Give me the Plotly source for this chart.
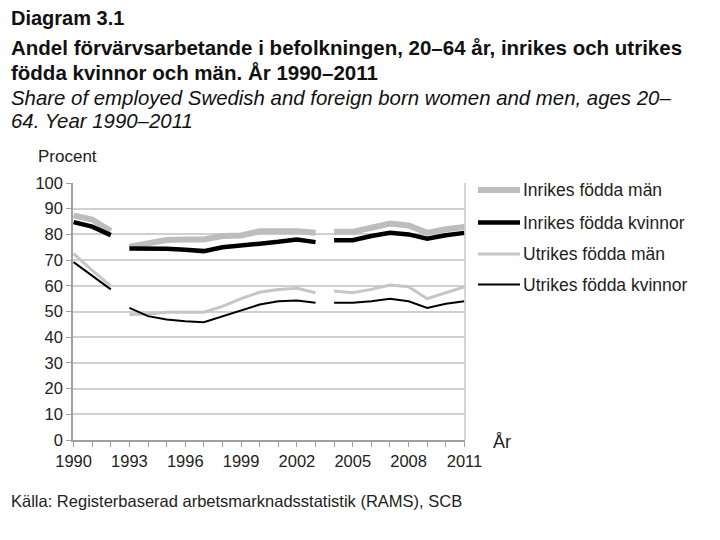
import plotly.graph_objects as go

years = list(range(1990, 2012))
inrikes_man = [87.4, 85.8, 81.3, 75.2, 76.5, 77.8, 78.0, 78.0, 79.4, 79.6, 81.2, 81.2, 81.2, 80.6,
               81.0, 81.0, 82.6, 84.2, 83.5, 80.6, 82.0, 82.9]
inrikes_kvinnor = [84.8, 83.0, 79.7, 74.5, 74.5, 74.4, 74.0, 73.5, 75.0, 75.5, 76.4, 77.1, 78.0, 77.0,
                   77.7, 77.7, 79.4, 80.6, 80.0, 78.3, 79.7, 80.6]
utrikes_man = [72.5, 66.0, 60.0, 48.8, 49.0, 49.7, 49.7, 49.7, 52.0, 55.0, 57.5, 58.6, 59.0, 57.3,
               58.0, 57.3, 58.6, 60.3, 59.6, 55.0, 57.3, 59.6]
utrikes_kvinnor = [69.2, 64.0, 58.6, 51.4, 48.2, 46.9, 46.2, 45.8, 48.2, 50.4, 52.7, 54.0, 54.3, 53.4,
                   53.4, 53.4, 54.0, 55.0, 54.0, 51.4, 53.0, 54.0]
break_after = [1992, 2003]  # series are interrupted after these years
series_names = ["Inrikes födda män", "Inrikes födda kvinnor", "Utrikes födda män", "Utrikes födda kvinnor"]
tick_years = [1990, 1993, 1996, 1999, 2002, 2005, 2008, 2011]

styles = [("#bdbdbd", 6), ("#000000", 4.5), ("#c6c6c6", 3), ("#000000", 2)]


def with_breaks(xs, ys):
    ox, oy = [], []
    for x, y in zip(xs, ys):
        ox.append(x)
        oy.append(y)
        if x in break_after:
            ox.append(None)
            oy.append(None)
    return ox, oy


fig = go.Figure()
for name, vals, (col, w) in zip(series_names,
                                [inrikes_man, inrikes_kvinnor, utrikes_man, utrikes_kvinnor], styles):
    bx, by = with_breaks(years, vals)
    fig.add_trace(go.Scatter(x=bx, y=by, mode="lines", name=name,
                             line=dict(color=col, width=w), connectgaps=False,
                             showlegend=False))

font = "Liberation Sans, Arial, sans-serif"
# page is offset by the 8px body margin, so plot area (page coords) = x 73..465, y 183..440
fig.update_layout(
    width=720, height=540,
    margin=dict(l=65, r=263, t=175, b=108),
    paper_bgcolor="white", plot_bgcolor="white",
    font=dict(family=font, color="#222222"),
    xaxis=dict(range=[1989.97, 2011.03], tickvals=years,
               ticktext=[str(y) if y in tick_years else "" for y in years],
               ticks="outside", ticklen=5, tickcolor="#a0a0a0",
               showline=True, linecolor="#a0a0a0", linewidth=1.5,
               showgrid=False, zeroline=False, tickfont=dict(size=16.5, color="#222222")),
    yaxis=dict(range=[0, 100], dtick=10, ticks="outside", ticklen=5, tickcolor="#a0a0a0",
               showline=True, linecolor="#a0a0a0", linewidth=1.5,
               gridcolor="#d0d0d0", gridwidth=1.5, zeroline=False,
               tickfont=dict(size=16.5, color="#222222")),
)


def px(x):
    return (x - 73) / 392


def py(y):
    return (440 - y) / 257


# right border of plot area
fig.add_shape(type="line", xref="paper", yref="paper", x0=1, x1=1, y0=0, y1=1,
              line=dict(color="#c8c8c8", width=1.5))

# manual legend
leg_y = [190, 222.5, 254, 284.5]
for (col, w), name, ly in zip(styles, series_names, leg_y):
    fig.add_shape(type="line", xref="paper", yref="paper",
                  x0=px(478), x1=px(520), y0=py(ly), y1=py(ly),
                  line=dict(color=col, width=w))
    fig.add_annotation(xref="paper", yref="paper", x=px(521), y=py(ly),
                       text=name, showarrow=False, xanchor="left", yanchor="middle",
                       font=dict(size=17.5, color="#222222", family=font))

fig.add_annotation(xref="paper", yref="paper", x=px(36), y=py(157),
                   text="Procent", showarrow=False, xanchor="left", yanchor="middle",
                   font=dict(size=17, color="#222222", family=font))
fig.add_annotation(xref="paper", yref="paper", x=px(491), y=py(442),
                   text="År", showarrow=False, xanchor="left", yanchor="middle",
                   font=dict(size=18, color="#222222", family=font))

titles = [
    ("<b>Diagram 3.1</b>", 18, 20),
    ("<b>Andel förvärvsarbetande i befolkningen, 20–64 år, inrikes och utrikes</b>", 47, 20.5),
    ("<b>födda kvinnor och män. År 1990–2011</b>", 72, 20.5),
    ("<i>Share of employed Swedish and foreign born women and men, ages 20–</i>", 98, 20.4),
    ("<i>64. Year 1990–2011</i>", 121, 20.4),
]
for txt, ty, fs in titles:
    fig.add_annotation(xref="paper", yref="paper", x=px(9), y=py(ty),
                       text=txt, showarrow=False, xanchor="left", yanchor="middle",
                       font=dict(size=fs, color="#111111", family=font))

fig.add_annotation(xref="paper", yref="paper", x=px(9), y=py(501),
                   text="Källa: Registerbaserad arbetsmarknadsstatistik (RAMS), SCB",
                   showarrow=False, xanchor="left", yanchor="middle",
                   font=dict(size=16.5, color="#222222", family=font))

fig.write_html("out.html")
